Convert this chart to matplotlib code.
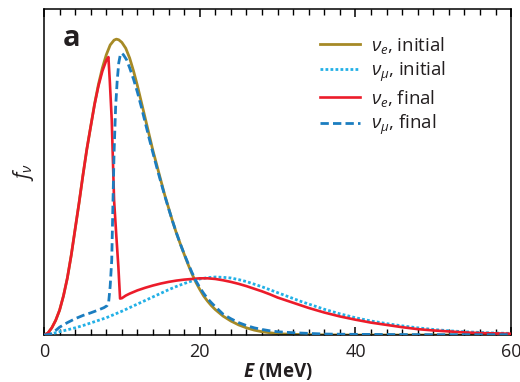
import matplotlib
matplotlib.use("Agg")
import matplotlib.pyplot as plt

# values (E in MeV, f in arbitrary units)
e_nue_init = [0, 0.5, 1.0, 1.5, 2.0, 2.5, 3.0, 3.5, 4.0, 4.5, 5.0, 5.5, 6.0, 6.5, 7.0, 7.5, 8.0, 8.5,
              9.0, 9.3, 9.6, 10.0, 10.5, 11.0, 11.5, 12.0, 12.5, 13.0, 13.5, 14.0, 14.5, 15.0, 15.5,
              16.0, 16.5, 17.0, 17.5, 18.0, 18.5, 19.0, 19.5, 20.0, 20.5, 21.0, 21.5, 22.0, 23.0,
              24.0, 25.0, 26.0, 27.0, 28.0, 29.0, 30.0, 32.0, 35.0, 40.0, 60.0]
f_nue_init = [0, 0.006, 0.022, 0.045, 0.076, 0.12, 0.175, 0.245, 0.325, 0.405, 0.49, 0.57, 0.64,
              0.71, 0.77, 0.82, 0.86, 0.89, 0.905, 0.908, 0.906, 0.898, 0.88, 0.85, 0.81, 0.765,
              0.715, 0.665, 0.615, 0.565, 0.52, 0.475, 0.43, 0.39, 0.35, 0.313, 0.28, 0.248, 0.217,
              0.188, 0.162, 0.14, 0.12, 0.104, 0.09, 0.078, 0.058, 0.043, 0.031, 0.022, 0.015, 0.01,
              0.007, 0.004, 0.002, 0.0005, 0, 0]

e_num_init = [0, 1, 2, 3, 4, 5, 6, 7, 8, 9, 10, 11, 12, 13, 14, 15, 16, 17, 18, 19, 20, 21, 22,
              23, 24, 25, 26, 27, 28, 29, 30, 31, 32, 33, 34, 35, 36, 37, 38, 39, 40, 42, 44, 46,
              48, 50, 52, 54, 56, 58, 60]
f_num_init = [0, 0.004, 0.01, 0.016, 0.022, 0.029, 0.037, 0.045, 0.053, 0.063, 0.073, 0.084, 0.095,
              0.106, 0.117, 0.128, 0.139, 0.149, 0.158, 0.166, 0.172, 0.176, 0.178, 0.177, 0.175,
              0.17, 0.164, 0.156, 0.148, 0.139, 0.13, 0.121, 0.112, 0.103, 0.095, 0.087, 0.079,
              0.072, 0.065, 0.059, 0.053, 0.043, 0.035, 0.028, 0.022, 0.017, 0.013, 0.01, 0.008,
              0.006, 0.005]

e_nue_fin = [0, 0.5, 1.0, 1.5, 2.0, 2.5, 3.0, 3.5, 4.0, 4.5, 5.0, 5.5, 6.0, 6.5, 7.0, 7.5, 8.0, 8.27,
             8.45, 8.7, 9.0, 9.3, 9.55, 9.77, 10.0, 10.5, 11, 12, 13, 14, 15, 16, 17, 18, 19, 20,
             21, 22, 23, 24, 25, 26, 27, 28, 29, 30, 31, 32, 33, 34, 35, 36, 37, 38, 39, 40, 42,
             44, 46, 48, 50, 52, 54, 56, 58, 60]
f_nue_fin = [0, 0.006, 0.022, 0.045, 0.076, 0.12, 0.175, 0.245, 0.325, 0.405, 0.49, 0.57, 0.64,
             0.708, 0.765, 0.81, 0.843, 0.853, 0.78, 0.66, 0.414, 0.30, 0.21, 0.112, 0.113, 0.121,
             0.127, 0.137, 0.145, 0.152, 0.158, 0.163, 0.167, 0.17, 0.172, 0.174, 0.174, 0.172,
             0.168, 0.163, 0.157, 0.15, 0.142, 0.134, 0.125, 0.115, 0.107, 0.099, 0.091, 0.083,
             0.076, 0.069, 0.063, 0.057, 0.052, 0.047, 0.038, 0.031, 0.024, 0.018, 0.014, 0.011,
             0.008, 0.006, 0.005, 0.004]

e_num_fin = [0, 0.8, 1.3, 2.0, 3, 4, 5, 6, 7, 7.7, 8.1, 8.3, 8.5, 8.7, 8.85, 9.0, 9.2, 9.4, 9.6,
             9.8, 9.95, 10.2, 10.6, 11, 11.5, 12, 12.5, 13, 13.5, 14, 14.5, 15, 15.5, 16, 16.5,
             17, 17.5, 18, 18.5, 19, 19.5, 20, 20.5, 21, 21.5, 22, 23, 24, 25, 26, 27, 28, 29,
             30, 32, 34, 36, 40, 50, 60]
f_num_fin = [0, 0.002, 0.01, 0.024, 0.038, 0.05, 0.06, 0.068, 0.077, 0.084, 0.09, 0.1, 0.15, 0.23,
             0.4, 0.56, 0.7, 0.78, 0.835, 0.86, 0.865, 0.86, 0.845, 0.82, 0.785, 0.745, 0.7,
             0.652, 0.604, 0.558, 0.513, 0.47, 0.428, 0.388, 0.35, 0.314, 0.28, 0.249, 0.22,
             0.192, 0.167, 0.146, 0.128, 0.112, 0.099, 0.087, 0.064, 0.05, 0.038, 0.029, 0.022,
             0.017, 0.013, 0.01, 0.007, 0.005, 0.003, 0.002, 0.001, 0.001]

labels = [r"$\nu_e$, initial", r"$\nu_\mu$, initial", r"$\nu_e$, final", r"$\nu_\mu$, final"]
major_ticks = [0, 20, 40, 60]
minor_ticks = [t for t in range(0, 61, 2) if t % 20]

plt.rcParams["font.family"] = ["Open Sans", "DejaVu Sans"]
plt.rcParams["mathtext.fontset"] = "custom"
plt.rcParams["mathtext.rm"] = "Open Sans"
plt.rcParams["mathtext.it"] = "Open Sans:italic"
plt.rcParams["mathtext.bf"] = "Open Sans:bold"
plt.rcParams["mathtext.bfit"] = "Open Sans:italic:bold"

txt = "#231f20"
fig = plt.figure(figsize=(5.2, 3.82), dpi=100)
ax = fig.add_axes([0.0846, 0.123, 0.8985, 0.853])

ax.plot(e_nue_init, f_nue_init, color="#a68a26", lw=2.0, label=labels[0], zorder=2)
ax.plot(e_num_init, f_num_init, color="#22b0e6", lw=2.0, dashes=(1, 0.8), label=labels[1], zorder=3)
ax.plot(e_nue_fin, f_nue_fin, color="#ec1c2a", lw=1.9, label=labels[2], zorder=4)
ax.plot(e_num_fin, f_num_fin, color="#1b7dc0", lw=2.0, dashes=(3, 1.5), label=labels[3], zorder=5)

ax.set_xlim(0, 60)
ax.set_ylim(0, 1.0)
ax.set_xticks(major_ticks)
ax.set_xticks(minor_ticks, minor=True)
ax.set_yticks([])
ax.tick_params(axis="x", which="major", direction="in", top=True, length=6, width=1.1,
               color="black", labelcolor=txt, labelsize=13, pad=6)
ax.tick_params(axis="x", which="minor", direction="in", top=True, length=4, width=1.0, color="black")
for s in ax.spines.values():
    s.set_linewidth(1.1)

ax.set_xlabel(r"$\mathbfit{E}$ (MeV)", fontsize=13.5, fontweight="bold", color=txt, labelpad=0)
ax.set_ylabel(r"$f_\nu$", fontsize=15, color=txt, labelpad=6)
ax.text(0.04, 0.955, "a", transform=ax.transAxes, fontsize=21, fontweight="bold", color=txt, va="top")

leg = ax.legend(loc="upper left", bbox_to_anchor=(0.575, 0.945), frameon=False, fontsize=13.5,
                handlelength=2.1, handletextpad=0.6, labelspacing=0.22, borderaxespad=0)
for t in leg.get_texts():
    t.set_color(txt)

fig.savefig("out.png", dpi=100)
